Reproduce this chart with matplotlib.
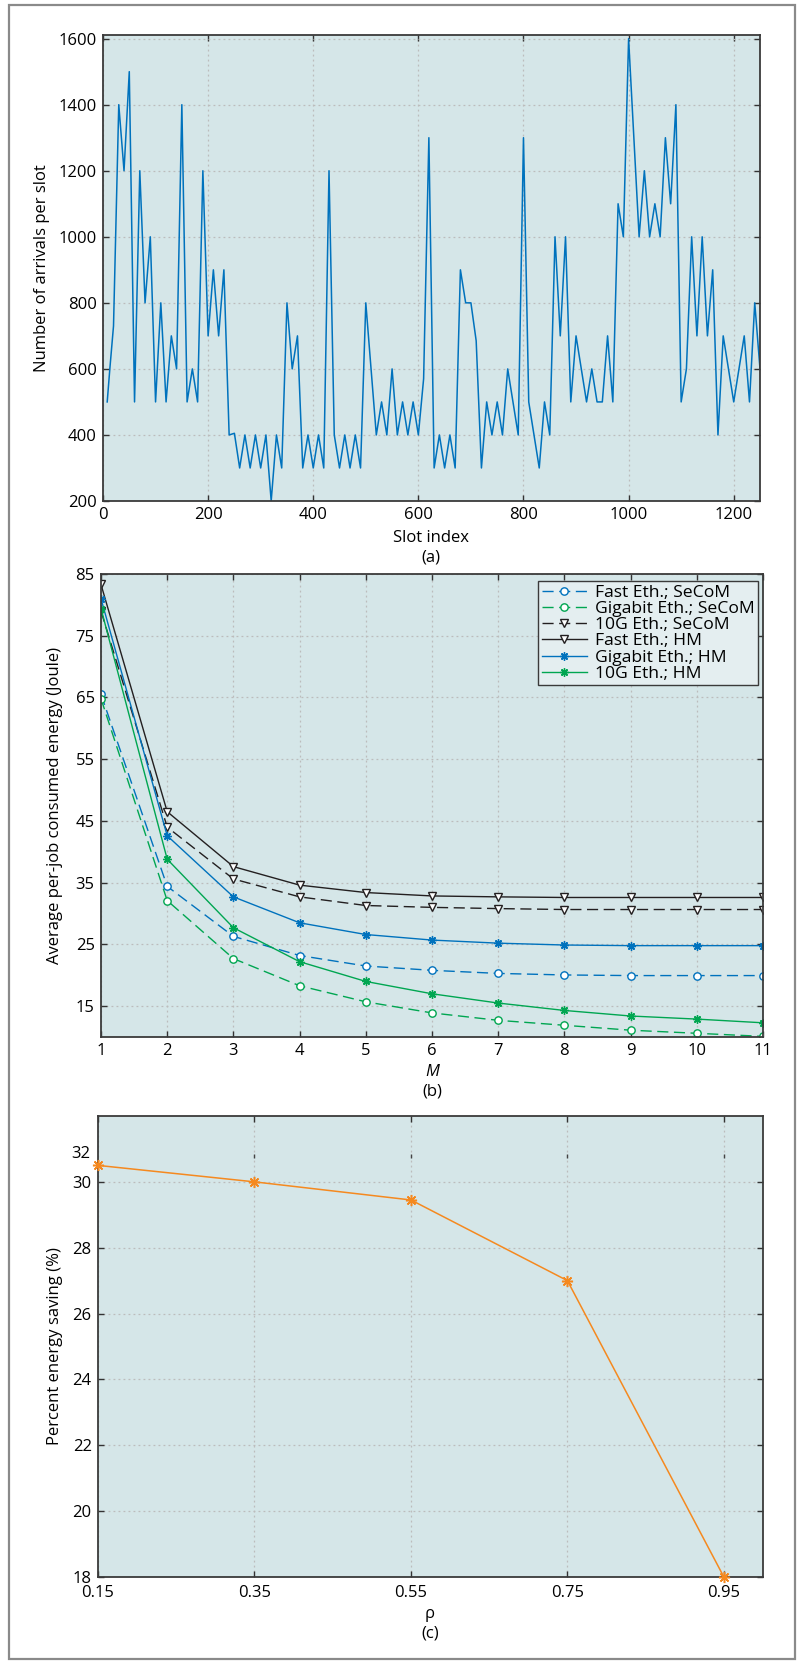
import numpy as np
import matplotlib
matplotlib.use("Agg")
import matplotlib.pyplot as plt
from matplotlib.patches import Rectangle

plt.rcParams['font.family'] = ['Open Sans', 'DejaVu Sans']
plt.rcParams['font.size'] = 12

# ---------------------------------------------------------------
# (a) arrivals per slot
# ---------------------------------------------------------------
slot_index = [8, 13, 20, 30, 40, 50, 60, 70, 80, 90,
              100, 110, 120, 130, 140, 150, 160, 170, 180, 190,
              200, 210, 220, 230, 240, 250, 260, 270, 280, 290,
              300, 310, 320, 330, 340, 350, 360, 370, 380, 390,
              400, 410, 420, 430, 440, 450, 460, 470, 480, 490,
              500, 510, 520, 530, 540, 550, 560, 570, 580, 590,
              600, 610, 620, 630, 640, 650, 660, 670, 680, 690,
              700, 710, 720, 730, 740, 750, 760, 770, 780, 790,
              800, 810, 820, 830, 840, 850, 860, 870, 880, 890,
              900, 910, 920, 930, 940, 950, 960, 970, 980, 990,
              1000, 1010, 1020, 1030, 1040, 1050, 1060, 1070, 1080, 1090,
              1100, 1110, 1120, 1130, 1140, 1150, 1160, 1170, 1180, 1190,
              1200, 1210, 1220, 1230, 1240, 1250]
arrivals = [500, 600, 730, 1400, 1200, 1500, 500, 1200, 800, 1000,
            500, 800, 500, 700, 600, 1400, 500, 600, 500, 1200,
            700, 900, 700, 900, 400, 405, 300, 400, 300, 400,
            300, 400, 200, 400, 300, 800, 600, 700, 300, 400,
            300, 400, 300, 1200, 400, 300, 400, 300, 400, 300,
            800, 600, 400, 500, 400, 600, 400, 500, 400, 500,
            400, 570, 1300, 300, 400, 300, 400, 300, 900, 800,
            800, 685, 300, 500, 400, 500, 400, 600, 500, 400,
            1300, 500, 400, 300, 500, 400, 1000, 700, 1000, 500,
            700, 600, 500, 600, 500, 500, 700, 500, 1100, 1000,
            1600, 1300, 1000, 1200, 1000, 1100, 1000, 1300, 1100, 1400,
            500, 600, 1000, 700, 1000, 700, 900, 400, 700, 600,
            500, 600, 700, 500, 800, 600]

# ---------------------------------------------------------------
# (b) average per-job consumed energy vs M
# ---------------------------------------------------------------
M_values = list(range(1, 12))
fast_secom = [65.5, 34.4, 26.3, 23.2, 21.5, 20.8, 20.3, 20.05, 19.95, 19.95, 19.95]
gigabit_secom = [64.8, 32.1, 22.7, 18.3, 15.7, 13.9, 12.7, 11.9, 11.1, 10.6, 10.1]
tenG_secom = [79.0, 44.0, 35.6, 32.7, 31.3, 31.0, 30.8, 30.65, 30.65, 30.65, 30.65]
fast_hm = [83.3, 46.5, 37.6, 34.6, 33.4, 32.85, 32.7, 32.6, 32.6, 32.6, 32.6]
gigabit_hm = [81.0, 42.6, 32.7, 28.5, 26.6, 25.7, 25.2, 24.9, 24.8, 24.8, 24.8]
tenG_hm = [79.4, 38.8, 27.7, 22.2, 19.0, 17.0, 15.5, 14.3, 13.4, 12.9, 12.3]

# ---------------------------------------------------------------
# (c) percent energy saving vs rho
# ---------------------------------------------------------------
rho = [0.15, 0.35, 0.55, 0.75, 0.95]
saving = [30.5, 30.0, 29.45, 27.0, 18.0]

# colours
BG = '#d5e6e8'
BLUE = '#0072bd'
GREEN = '#00a651'
BLACK = '#231f20'
ORANGE = '#f5891f'
asterisk = (8, 2, 0)


def style_axes(ax):
    """MATLAB-like box: ticks inside on every side, dotted grid"""
    ax.set_facecolor(BG)
    ax.grid(True, color='#bcbcbc', linestyle=(0, (1.5, 2.5)), linewidth=0.9)
    ax.set_axisbelow(True)
    ax.tick_params(direction='in', top=True, right=True, length=4,
                   width=1.0, color='#333333', labelsize=12)
    ax.tick_params(axis='x', pad=4)
    ax.tick_params(axis='y', pad=4.5)
    for s in ax.spines.values():
        s.set_color('#3a3a3a')
        s.set_linewidth(1.3)


W, H = 804, 1664
fig = plt.figure(figsize=(W / 100, H / 100), dpi=100)


def box(left, top, right, bottom):
    return [left / W, 1 - bottom / H, (right - left) / W, (bottom - top) / H]


# outer frame
fig.patches.append(Rectangle((9 / W, 1 - 1659 / H), 786 / W, 1654 / H,
                             transform=fig.transFigure, fill=False,
                             edgecolor='#8a8a8a', linewidth=1.6))

# ---- panel (a) ----
ax1 = fig.add_axes(box(103, 35, 760, 501))
style_axes(ax1)
ax1.plot(slot_index, arrivals, color=BLUE, lw=1.1)
ax1.set_xlim(0, 1250)
ax1.set_ylim(200, 1611)
ax1.set_xticks(np.arange(0, 1201, 200))
ax1.set_yticks(np.arange(200, 1601, 200))
ax1.set_ylabel('Number of arrivals per slot', fontsize=12)
ax1.yaxis.set_label_coords(-0.081, 0.5)
fig.text(431 / W, 1 - 538 / H, 'Slot index', ha='center', va='center', fontsize=12)
fig.text(431 / W, 1 - 557 / H, '(a)', ha='center', va='center', fontsize=12)

# ---- panel (b) ----
ax2 = fig.add_axes(box(101, 574, 763, 1037))
style_axes(ax2)
dash = (0, (8, 4))
ax2.plot(M_values, fast_secom, color=BLUE, ls=dash, lw=1.0, marker='o', ms=5.3,
         mfc='white', mec=BLUE, label='Fast Eth.; SeCoM')
ax2.plot(M_values, gigabit_secom, color=GREEN, ls=dash, lw=1.0, marker='o', ms=5.3,
         mfc='white', mec=GREEN, label='Gigabit Eth.; SeCoM')
ax2.plot(M_values, tenG_secom, color=BLACK, ls=dash, lw=1.0, marker='v', ms=6,
         mfc='white', mec=BLACK, label='10G Eth.; SeCoM')
ax2.plot(M_values, fast_hm, color=BLACK, lw=1.0, marker='v', ms=6,
         mfc='white', mec=BLACK, label='Fast Eth.; HM')
ax2.plot(M_values, gigabit_hm, color=BLUE, lw=1.0, marker=asterisk, ms=6,
         mec=BLUE, mew=1.0, label='Gigabit Eth.; HM')
ax2.plot(M_values, tenG_hm, color=GREEN, lw=1.0, marker=asterisk, ms=6,
         mec=GREEN, mew=1.0, label='10G Eth.; HM')
ax2.set_xlim(1, 11)
ax2.set_ylim(10, 85)
ax2.set_xticks(M_values)
ax2.set_yticks(np.arange(15, 86, 10))
ax2.set_ylabel('Average per-job consumed energy (Joule)', fontsize=12)
ax2.yaxis.set_label_coords(-0.057, 0.5)
leg = ax2.legend(loc='upper right', bbox_to_anchor=(0.993, 0.985), fontsize=12.6,
                 handlelength=2.6, handletextpad=0.45, labelspacing=0.0,
                 borderpad=0.2, borderaxespad=0.0, fancybox=False,
                 framealpha=1.0, facecolor='#e4eef0', edgecolor='#3a3a3a')
leg.get_frame().set_linewidth(1.0)
fig.text(432 / W, 1 - 1072 / H, 'M', ha='center', va='center', fontsize=12, style='italic')
fig.text(432 / W, 1 - 1091 / H, '(b)', ha='center', va='center', fontsize=12)

# ---- panel (c) ----
ax3 = fig.add_axes(box(98, 1116, 763, 1577))
style_axes(ax3)
ax3.tick_params(axis='x', pad=6)
ax3.plot(rho, saving, color=ORANGE, lw=1.1, marker=asterisk, ms=8, mec=ORANGE, mew=1.1,
         clip_on=False, zorder=3)
ax3.set_xlim(0.15, 1.0)
ax3.set_ylim(18, 32)
ax3.set_xticks(rho)
ax3.set_xticklabels(['0.15', '0.35', '0.55', '0.75', '0.95'])
ax3.set_yticks(np.arange(18, 31, 2))
# the "32" label sits just above 30 in the original, not at the top edge
ax3.text(-0.012, 30.85, '32', transform=ax3.get_yaxis_transform(),
         ha='right', va='center', fontsize=12)
ax3.plot(rho[1:], [30.8] * 4, ls='none', marker='|', ms=3, color='#444444')
ax3.set_ylabel('Percent energy saving (%)', fontsize=12)
ax3.yaxis.set_label_coords(-0.053, 0.5)
fig.text(430 / W, 1 - 1614 / H, 'ρ', ha='center', va='center', fontsize=12)
fig.text(430 / W, 1 - 1634 / H, '(c)', ha='center', va='center', fontsize=12)

fig.savefig('out.png', dpi=100)
